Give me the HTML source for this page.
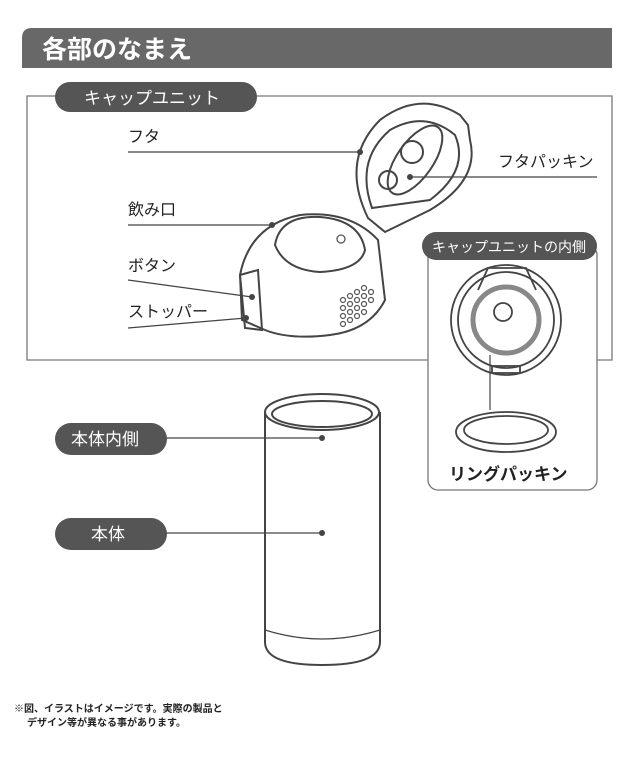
<html><head><style>body{margin:0;background:#fff;width:640px;height:774px;overflow:hidden;font-family:"Liberation Sans","Noto Sans CJK JP",sans-serif}
.t{position:absolute;font-size:16px;color:#222;font-weight:normal;line-height:18px}</style></head><body>
<svg width="640" height="774" style="position:absolute;left:0;top:0" font-family="Liberation Sans, Noto Sans CJK JP, sans-serif">
<path d="M32 28 H612 V68 H22 V38 Q22 28 32 28Z" fill="#686868"/>
<text x="42" y="58" fill="#fff" font-size="25" font-weight="bold">各部のなまえ</text>
<path d="M250 96 H612 V360 H27 V96 H60" fill="none" stroke="#777" stroke-width="1.3"/>
<rect x="55" y="82" width="202" height="30" rx="15" fill="#555"/>
<text x="84" y="104" fill="#fff" font-size="17">キャップユニット</text>
<g stroke="#444" stroke-width="1.3" fill="none">
<line x1="128" y1="152" x2="360" y2="152"/><line x1="410" y1="177" x2="597" y2="177"/>
<line x1="128" y1="225" x2="272" y2="225"/><line x1="128" y1="280" x2="252" y2="297"/><line x1="128" y1="328" x2="246" y2="318"/>
<line x1="150" y1="438" x2="322" y2="438"/><line x1="150" y1="533" x2="322" y2="533"/>
<g stroke-width="2">
<path d="M368 218 Q340 160 380 120 Q420 90 460 115 L468 125 L470 140 Q480 180 430 210 L385 232 Z"/>
<path d="M372 208 Q355 160 390 130 Q425 110 455 135 Q470 170 430 200 Z"/>
<ellipse cx="415" cy="160" rx="18" ry="40" transform="rotate(35 415 160)"/>
<circle cx="412" cy="152" r="11"/><circle cx="388" cy="180" r="9"/>
<path d="M240 275 Q250 225 300 215 Q350 210 378 240 L385 300 Q370 330 330 335 Q290 340 265 330 L242 320 Z"/>
<path d="M275 245 Q280 215 320 217 Q360 220 365 250 Q360 270 320 272 Q285 270 275 245Z"/>
<path d="M240 275 L258 270 L262 330 L245 328 Z"/>
</g>
</g>
<g fill="none" stroke="#555" stroke-width="1.3">
<circle cx="341" cy="239" r="4"/>
</g>
<g fill="#444"><circle cx="360" cy="152" r="3"/><circle cx="410" cy="177" r="3"/><circle cx="272" cy="225" r="3"/><circle cx="252" cy="297" r="3"/><circle cx="246" cy="318" r="3"/><circle cx="322" cy="438" r="3"/><circle cx="322" cy="533" r="3"/></g>
<g fill="none" stroke="#555" stroke-width="1.2">
<circle cx="343" cy="300" r="2.5"/><circle cx="350" cy="296" r="2.5"/><circle cx="357" cy="292" r="2.5"/><circle cx="364" cy="288" r="2.5"/>
<circle cx="343" cy="308" r="2.5"/><circle cx="350" cy="304" r="2.5"/><circle cx="357" cy="300" r="2.5"/><circle cx="364" cy="296" r="2.5"/><circle cx="371" cy="292" r="2.5"/>
<circle cx="343" cy="316" r="2.5"/><circle cx="350" cy="312" r="2.5"/><circle cx="357" cy="308" r="2.5"/><circle cx="364" cy="304" r="2.5"/><circle cx="371" cy="300" r="2.5"/>
<circle cx="343" cy="324" r="2.5"/><circle cx="350" cy="320" r="2.5"/><circle cx="357" cy="316" r="2.5"/><circle cx="364" cy="312" r="2.5"/>
</g>
<rect x="428" y="245" width="169" height="245" rx="10" fill="#fff" stroke="#777" stroke-width="1.3"/>
<rect x="422" y="232" width="175" height="28" rx="14" fill="#555"/>
<text x="432" y="252" fill="#fff" font-size="14">キャップユニットの内側</text>
<g fill="none" stroke="#444" stroke-width="1.8">
<path d="M478 290 L488 268 H526 L536 290"/>
<circle cx="506" cy="320" r="55"/><circle cx="506" cy="320" r="48"/>
<circle cx="506" cy="320" r="33" stroke="#888" stroke-width="5"/>
<circle cx="503" cy="312" r="9"/>
<rect x="492" y="366" width="28" height="7"/>
<ellipse cx="506" cy="432" rx="50" ry="20"/><ellipse cx="506" cy="430" rx="42" ry="14"/>
<line x1="490" y1="355" x2="490" y2="410" stroke-width="1.2"/>
</g>
<text x="449" y="480" font-size="17" font-weight="bold" fill="#222">リングパッキン</text>
<g fill="none" stroke="#444" stroke-width="2">
<ellipse cx="322" cy="412" rx="57" ry="18"/><ellipse cx="322" cy="414" rx="50" ry="13"/>
<path d="M265 412 V642 Q265 665 322 665 Q380 665 380 642 V412"/>
<path d="M265 630 Q322 648 380 630" stroke-width="1.3"/>
</g>
<rect x="55" y="423" width="112" height="32" rx="16" fill="#555"/>
<text x="71" y="445" fill="#fff" font-size="17">本体内側</text>
<rect x="55" y="518" width="112" height="32" rx="16" fill="#555"/>
<text x="91" y="540" fill="#fff" font-size="17">本体</text>
<text x="14" y="712" font-size="10" font-weight="bold" fill="#222">※図、イラストはイメージです。実際の製品と</text>
<text x="27" y="726" font-size="10" font-weight="bold" fill="#222">デザイン等が異なる事があります。</text>
</svg>
<div class="t" style="left:128px;top:129px">フタ</div>
<div class="t" style="left:498px;top:154px">フタパッキン</div>
<div class="t" style="left:128px;top:202px">飲み口</div>
<div class="t" style="left:128px;top:258px">ボタン</div>
<div class="t" style="left:128px;top:304px">ストッパー</div>
</body></html>
